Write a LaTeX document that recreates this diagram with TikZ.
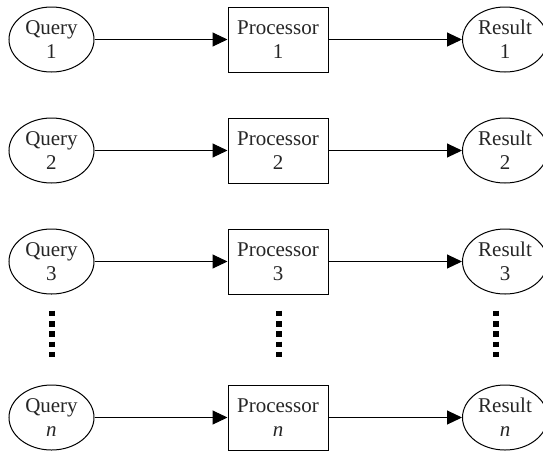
\documentclass[tikz,border=0pt]{standalone}
\usepackage{fontspec}
\setmainfont{Liberation Serif}
\usetikzlibrary{shapes.geometric,arrows.meta}
\begin{document}
\begin{tikzpicture}[x=1pt,y=-1pt,
  lbl/.style={align=center,font=\fontsize{21}{24}\selectfont,text=black!85},
  endnode/.style={lbl,draw,ellipse,line width=1pt,minimum width=85pt,minimum height=65pt,inner sep=0pt},
  procbox/.style={lbl,draw,rectangle,line width=1pt,minimum width=100pt,minimum height=65pt,inner sep=0pt},
  flow/.style={line width=1pt,-{Triangle[length=15pt,width=14pt]}},
  gap/.style={line width=5.5pt,dash pattern=on 5.5pt off 4.8pt}]
\useasboundingbox (0,0) rectangle (543,451);
\foreach \i/\y/\t in {1/39.5/1, 2/150.5/2, 3/261.5/3, n/417.5/\textit{n}}{
  \node[endnode] (q\i) at (51.5,\y) {Query\\\t};
  \node[procbox] (p\i) at (278,\y) {Processor\\\t};
  \node[endnode] (r\i) at (505,\y) {Result\\\t};
  \draw[flow] (q\i) -- (p\i);
  \draw[flow] (p\i) -- (r\i);
}
% vertical ellipsis between row 3 and row n
\draw[gap] (52,310.7) -- (52,357);
\draw[gap] (279,310.7) -- (279,357);
\draw[gap] (496,310.7) -- (496,357);
\end{tikzpicture}
\end{document}
